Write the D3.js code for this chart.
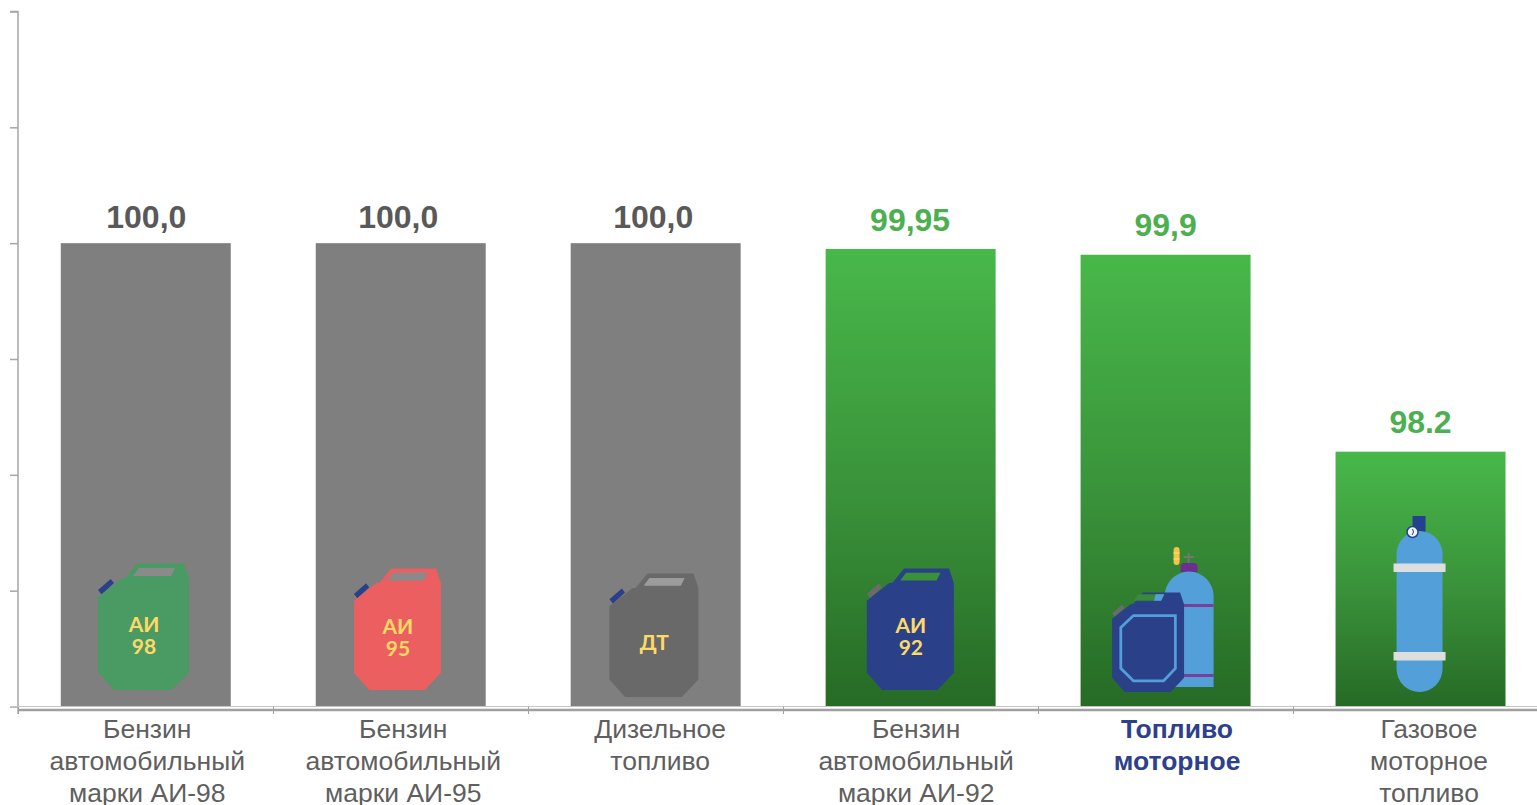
<!DOCTYPE html>
<html lang="ru"><head><meta charset="utf-8">
<style>html,body{margin:0;padding:0;background:#fff;overflow:hidden}svg{display:block;font-family:"Liberation Sans",Arial,sans-serif}</style>
<script src="https://cdn.jsdelivr.net/npm/d3@7"></script></head><body>
<svg id="c" width="1537" height="805"></svg>
<script>
const categories = ["Бензин автомобильный марки АИ-98","Бензин автомобильный марки АИ-95","Дизельное топливо","Бензин автомобильный марки АИ-92","Топливо моторное","Газовое моторное топливо"];
const categoryLines = [["Бензин","автомобильный","марки АИ-98"],["Бензин","автомобильный","марки АИ-95"],["Дизельное","топливо"],["Бензин","автомобильный","марки АИ-92"],["Топливо","моторное"],["Газовое","моторное","топливо"]];
const values = [100, 100, 100, 99.95, 99.9, 98.2];
const valueLabels = ["100,0","100,0","100,0","99,95","99,9","98.2"];
const yTicks = [96,97,98,99,100,101,102];

const svg = d3.select("#c");
const x = d3.scaleBand().domain(categories).range([18.3,1548]).paddingInner(1/3).paddingOuter(1/6);
const y = d3.scaleLinear().domain([96,102]).range([706.5,11.5]);
const edge = d3.scaleLinear().domain([0,6]).range([18,1548]);

const defs = svg.append("defs");
const grad = defs.append("linearGradient").attr("id","g").attr("x1",0).attr("y1",0).attr("x2",0).attr("y2",1);
grad.append("stop").attr("offset","0%").attr("stop-color","#48b84a");
grad.append("stop").attr("offset","55%").attr("stop-color","#399139");
grad.append("stop").attr("offset","100%").attr("stop-color","#266a26");

svg.append("g").selectAll("rect").data(values).join("rect")
  .attr("x",(d,i)=>x(categories[i])).attr("width",x.bandwidth())
  .attr("y",d=>y(d)).attr("height",d=>y(96)-y(d))
  .attr("fill",(d,i)=>i<3?"#7f7f7f":"url(#g)");

// axes
const yAxis = svg.append("g").attr("transform","translate(18,0)")
  .call(d3.axisLeft(y).tickValues(yTicks).tickSize(8).tickFormat(""));
yAxis.selectAll("path,line").attr("stroke","#a6a6a6").attr("stroke-width",1.5);
yAxis.select("path").attr("d","M-8,11.5H0V714");

svg.append("line").attr("x1",10).attr("x2",1537).attr("y1",706.5).attr("y2",706.5).attr("stroke","#c4c4c4").attr("stroke-width",1);
const xAxis = svg.append("g").attr("transform","translate(0,710)")
  .call(d3.axisBottom(edge).ticks(6).tickSize(4).tickFormat(""));
xAxis.select("path").attr("stroke","#a0a0a0").attr("stroke-width",2.4).attr("d","M18,0H1548");
xAxis.selectAll("line").attr("stroke","#a0a0a0").attr("stroke-width",1).attr("y1",-3);

// value labels
const valueDx = [0.5,-2.5,-2.5,-0.5,0,0];
const valueBase = [228,228,228,231,236,433];
svg.append("g").selectAll("text").data(valueLabels).join("text")
  .attr("x",(d,i)=>x(categories[i])+x.bandwidth()/2+valueDx[i]).attr("y",(d,i)=>valueBase[i])
  .attr("text-anchor","middle").attr("font-size",32).attr("font-weight",700)
  .attr("fill",(d,i)=>i<3?"#595959":"#4caf50").text(d=>d);

// category labels
const labelDx = [1.5,2.5,4.5,5.5,11.5,8.5];
const catAxis = svg.append("g").attr("transform","translate(0,710)").call(d3.axisBottom(x).tickSize(0).tickPadding(0));
catAxis.select("path").remove();
catAxis.selectAll("text").each(function(d,i){
  const t=d3.select(this).text(null).attr("dy",null).attr("y",0).attr("x",labelDx[i])
    .attr("font-family",'"Liberation Sans",Arial,sans-serif').attr("font-size",26.5)
    .attr("font-weight",i===4?700:400).attr("fill",i===4?"#2e3f8c":"#5f5f5f");
  categoryLines[i].forEach((l,k)=>t.append("tspan").attr("x",labelDx[i]).attr("y",28+32*k).text(l));
});

// icons
const icons = svg.append("g");
const can = [[0,34],[23,16],[27,15],[39,0.5],[86,0.5],[91,16],[91,109],[74,127],[16,127],[0,109]];
const win = [[35,13],[41,5],[77,5],[73,13]];
const cap = [[0,27],[12.7,16],[16,20],[3.7,31.5]];
const lineGen = d3.line().curve(d3.curveLinearClosed);
function jerry(i,dx,top,w,h,body,capC,winC,lines,fs){
  const sx=w/91, sy=h/127, left=x(categories[i])+dx;
  const g=icons.append("g").attr("transform",`translate(${left},${top}) scale(${sx},${sy})`);
  g.append("path").attr("d",lineGen(cap)).attr("fill",capC);
  g.append("path").attr("d",lineGen(can)).attr("fill",body);
  g.append("path").attr("d",lineGen(win)).attr("fill",winC);
  const t=icons.append("text").attr("text-anchor","middle").attr("font-family","Lato,'Open Sans',sans-serif")
    .attr("font-weight",700).attr("font-size",fs).attr("fill","#ffd966");
  lines.forEach(l=>t.append("tspan").attr("x",left+w/2+0.5).attr("y",top+l[1]).text(l[0]));
}
jerry(0,37.2,563,91,127,"#4a9a64","#2a4189","#8a8a8a",[["АИ",69],["98",91]],21);
jerry(1,38.2,568,87,122,"#ec5f60","#2a4189","#8a8a8a",[["АИ",66],["95",88]],21);
jerry(2,38.7,573,89,124,"#696969","#2a4189","#9c9c9c",[["ДТ",77]],21);
jerry(3,41.2,568,87,122,"#2a4189","#6b6b6b","#399139",[["АИ",65],["92",87]],21);

// motor fuel: cylinder + can
const m=x(categories[4]);
const mg=icons.append("g").attr("transform",`translate(${m},0)`);
mg.append("rect").attr("x",93).attr("y",547).attr("width",6).attr("height",18).attr("rx",3).attr("fill","#f5c542");
mg.append("path").attr("d","M93,553H99M93,559H99").attr("stroke","#fbe08a").attr("stroke-width",1);
mg.append("path").attr("d","M108,553V563M103,557H113").attr("stroke","#6f7a6a").attr("stroke-width",2);
mg.append("path").attr("d","M100,572V567Q100,563 104,563H113Q117,563 117,567V572Z").attr("fill","#6b2f8f");
mg.append("path").attr("d","M84,687V596A24.5,24.5 0 0 1 133,596V687Z").attr("fill","#539fd9");
mg.append("rect").attr("x",100).attr("y",604).attr("width",33).attr("height",3).attr("fill","#7b3f98");
mg.append("rect").attr("x",100).attr("y",674).attr("width",33).attr("height",3).attr("fill","#7b3f98");
const mc=mg.append("g").attr("transform","translate(31.5,592) scale(0.791,0.787)");
mc.append("path").attr("d",lineGen(cap)).attr("fill","#6b6b6b");
mc.append("path").attr("d",lineGen(can)).attr("fill","#2a4189");
mc.append("path").attr("d",lineGen([[27,11],[33,3],[66,3],[62,11]])).attr("fill","#3a8a3a");
mc.append("path").attr("d",lineGen([[53,11],[55,3],[66,3],[62,11]])).attr("fill","#539fd9");
mc.append("path").attr("d",lineGen([[11,45],[27,30],[80,30],[80,97],[65,113],[27,113],[11,97]])).attr("fill","none").attr("stroke","#539fd9").attr("stroke-width",3.5);

// gas cylinder
const gx=x(categories[5]);
const gg=icons.append("g").attr("transform",`translate(${gx},0)`);
gg.append("rect").attr("x",77).attr("y",516).attr("width",13).attr("height",16).attr("fill","#24408e");
gg.append("path").attr("d","M61,554A23,23 0 0 1 107,554V669A23,23 0 0 1 61,669Z").attr("fill","#539fd9");
gg.append("rect").attr("x",58).attr("y",563.5).attr("width",52).attr("height",8.5).attr("fill","#dedede");
gg.append("rect").attr("x",58).attr("y",652).attr("width",52).attr("height",8.5).attr("fill","#dedede");
gg.append("circle").attr("cx",77).attr("cy",532).attr("r",5.5).attr("fill","#f2f2f2").attr("stroke","#24408e").attr("stroke-width",1.5);
gg.append("path").attr("d","M77,529L78,532L76.5,535").attr("fill","none").attr("stroke","#24408e").attr("stroke-width",1);
</script></body></html>
